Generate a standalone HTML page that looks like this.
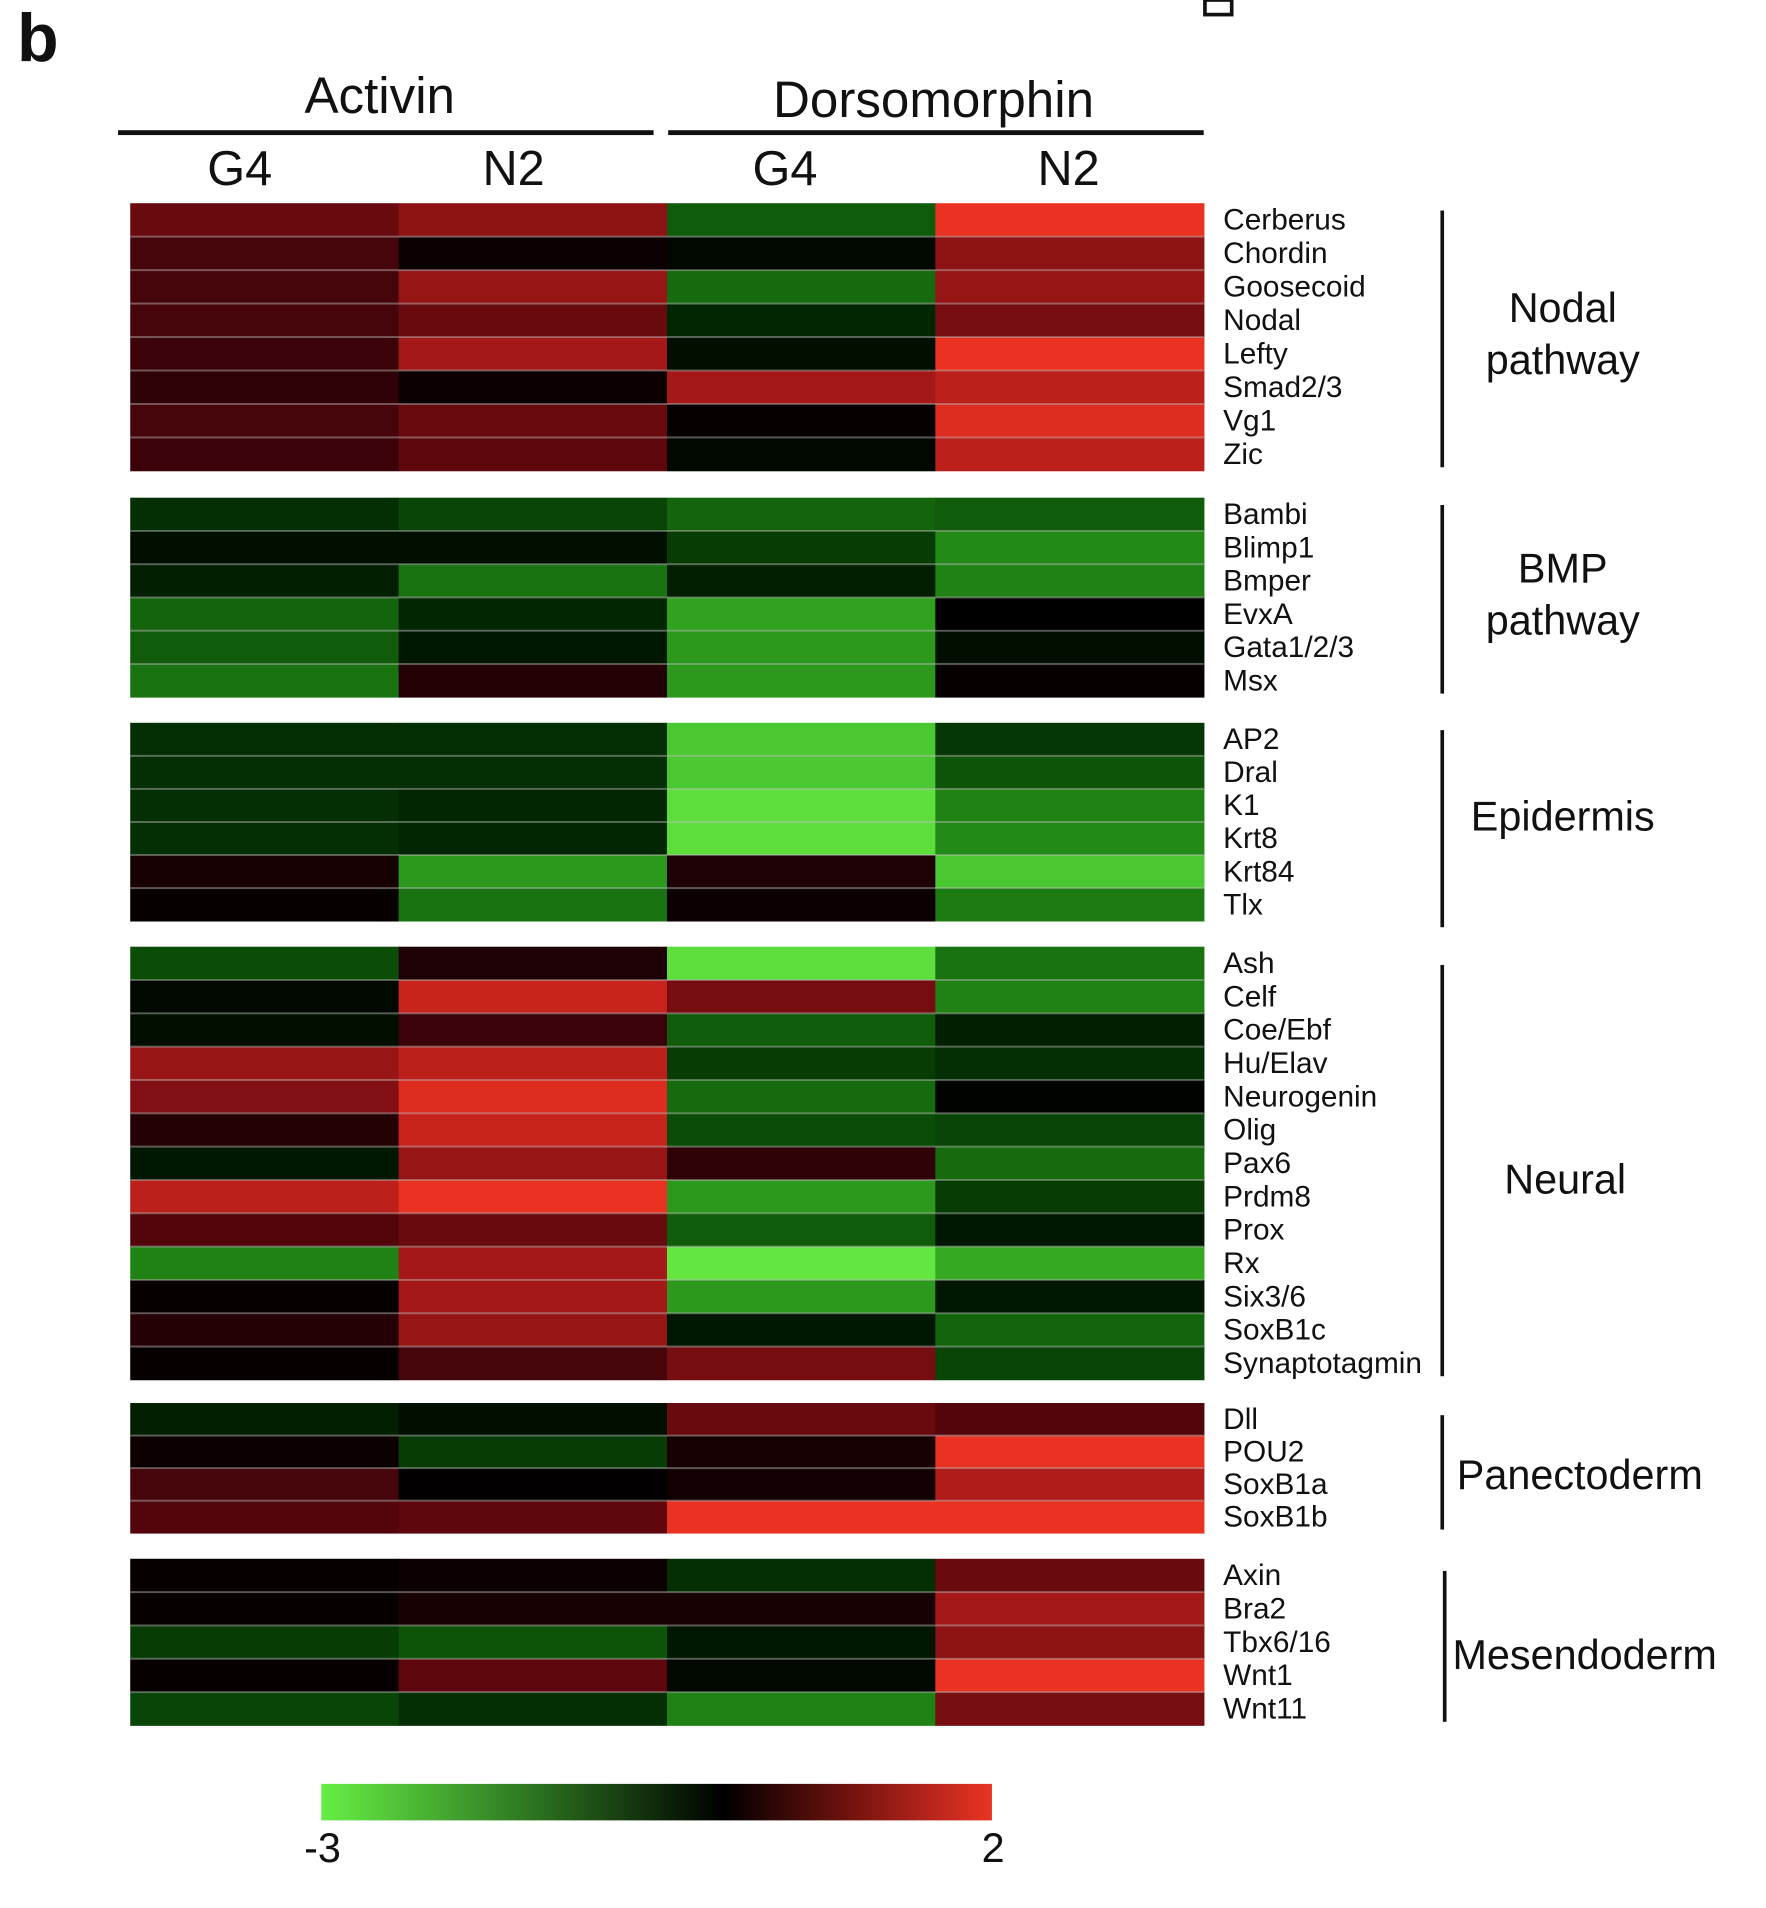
<!DOCTYPE html>
<html><head><meta charset="utf-8">
<style>html,body{margin:0;padding:0;background:#fff}svg{display:block}text{font-family:"Liberation Sans",sans-serif;fill:#111}</style>
</head><body>
<svg id="chart" width="1766" height="1908" viewBox="0 0 1451 1568" preserveAspectRatio="none" xmlns="http://www.w3.org/2000/svg">
<text x="14" y="50" font-size="56" font-weight="bold">b</text>
<rect x="990" y="0" width="22" height="12" fill="none" stroke="#111" stroke-width="3"/>
<text x="312" y="93" font-size="42" text-anchor="middle">Activin</text>
<rect x="97" y="107" width="440" height="4" fill="#111"/>
<text x="767" y="96" font-size="42" text-anchor="middle">Dorsomorphin</text>
<rect x="549" y="107" width="440" height="4" fill="#111"/>
<g id="cols"></g>
<g id="cells"></g>
<g id="labels"></g>
<g id="groups"></g>
<defs><linearGradient id="cbar" x1="0" x2="1" y1="0" y2="0">
<stop offset="0" stop-color="#66ee44"/><stop offset="0.3" stop-color="#2f7a22"/><stop offset="0.6" stop-color="#000"/><stop offset="0.8" stop-color="#7a1410"/><stop offset="1" stop-color="#ea3424"/></linearGradient></defs>
<rect x="264" y="1466" width="551" height="30" fill="url(#cbar)"/>
<text x="265" y="1530" font-size="34" text-anchor="middle">-3</text>
<text x="816" y="1530" font-size="34" text-anchor="middle">2</text>
</svg>
<script>
const columns = ["G4","N2","G4","N2"];
const groupNames = [["Nodal","pathway"],["BMP","pathway"],["Epidermis"],["Neural"],["Panectoderm"],["Mesendoderm"]];
const genes = [
 ["Cerberus","Chordin","Goosecoid","Nodal","Lefty","Smad2/3","Vg1","Zic"],
 ["Bambi","Blimp1","Bmper","EvxA","Gata1/2/3","Msx"],
 ["AP2","Dral","K1","Krt8","Krt84","Tlx"],
 ["Ash","Celf","Coe/Ebf","Hu/Elav","Neurogenin","Olig","Pax6","Prdm8","Prox","Rx","Six3/6","SoxB1c","Synaptotagmin"],
 ["Dll","POU2","SoxB1a","SoxB1b"],
 ["Axin","Bra2","Tbx6/16","Wnt1","Wnt11"]
];
const values = [
 [[0.9,1.2,-1.2,2],[0.6,0.1,-0.1,1.2],[0.6,1.3,-1.4,1.3],[0.6,0.9,-0.5,1.0],[0.5,1.4,-0.2,2],[0.4,0.1,1.4,1.6],[0.6,0.9,0.05,1.9],[0.5,0.8,-0.1,1.6]],
 [[-0.6,-0.9,-1.3,-1.2],[-0.2,-0.2,-0.8,-1.8],[-0.4,-1.5,-0.4,-1.7],[-1.3,-0.5,-2.1,0],[-1.2,-0.3,-2.0,-0.2],[-1.5,0.3,-2.0,0.05]],
 [[-0.6,-0.6,-2.6,-0.7],[-0.6,-0.6,-2.6,-1.1],[-0.6,-0.5,-2.9,-1.7],[-0.6,-0.5,-2.9,-1.8],[0.2,-2.0,0.25,-2.6],[0.05,-1.5,0.1,-1.6]],
 [[-1.0,0.25,-2.9,-1.5],[-0.1,1.7,1.0,-1.7],[-0.2,0.5,-1.2,-0.4],[1.3,1.6,-0.8,-0.6],[1.1,1.9,-1.4,-0.05],[0.3,1.7,-1.0,-0.9],[-0.3,1.3,0.4,-1.4],[1.6,2.0,-2.0,-0.8],[0.7,0.9,-1.2,-0.3],[-1.7,1.4,-3,-2.2],[0.05,1.4,-2.0,-0.3],[0.3,1.3,-0.3,-1.3],[0.05,0.6,1.0,-0.9]],
 [[-0.4,-0.2,0.9,0.7],[0.1,-0.8,0.2,2],[0.6,0.02,0.15,1.5],[0.7,0.8,2,2]],
 [[0.05,0.1,-0.6,0.9],[0.05,0.2,0.2,1.4],[-0.8,-1.1,-0.3,1.2],[0.05,0.8,-0.1,2],[-0.9,-0.6,-1.7,1.0]]
];
const groupTop=[167,409,594,778,1153,1281], groupBot=[387,573,757,1134,1260,1418];
const groupLabelX=[1284,1284,1284,1286,1298,1302];
const groupLabelDy=[-3,-3,-5,13,5,10];
const bracketX=[1185,1185,1185,1185,1185,1187];
const NS="http://www.w3.org/2000/svg";
const x0=107,x1=989,cw=(x1-x0)/columns.length;
function xPos(i){return x0+i*cw;}
function color(v){
 if(v>=0){const t=Math.min(v/2,1);return `rgb(${Math.round(234*t)},${Math.round(50*t*t)},${Math.round(34*t)})`;}
 const t=Math.min(-v/3,1);return `rgb(${Math.round(100*t*t)},${Math.round(230*t)},${Math.round(65*t*t)})`;
}
function mk(tag,attrs,parent){const e=document.createElementNS(NS,tag);for(const k in attrs)e.setAttribute(k,attrs[k]);parent.appendChild(e);return e;}
const colG=document.getElementById('cols'),cellG=document.getElementById('cells'),labG=document.getElementById('labels'),grpG=document.getElementById('groups');
const colCenters=[197,422,645,878];
columns.forEach((c,i)=>{const t=mk('text',{x:colCenters[i],y:152,'font-size':40,'text-anchor':'middle'},colG);t.textContent=c;

});
genes.forEach((gl,g)=>{
 const top=groupTop[g],h=(groupBot[g]-top)/gl.length;
 gl.forEach((name,r)=>{
  const y=top+r*h;
  values[g][r].forEach((v,c)=>{
   const rc=mk('rect',{x:xPos(c),y:y,width:cw+0.6,height:h+0.3,fill:color(v)},cellG);
   
   
  });
  if(r>0){const ln=mk('rect',{x:x0,y:y-0.8,width:x1-x0,height:1.6,fill:'rgba(190,190,190,0.45)'},cellG);
   
   }
  const t=mk('text',{x:1005,y:y+h/2+8,'font-size':24.5},labG);t.textContent=name;
  
  
 });
 const bt=top+(g==3?15:(g>=4?10:6)),bb=groupBot[g]-(g==2?-5:3);
 const ln=mk('rect',{x:bracketX[g]-1.5,y:bt,width:3,height:bb-bt,fill:'#111'},grpG);
 
 
 const mid=(top+groupBot[g])/2+groupLabelDy[g], lines=groupNames[g];
 lines.forEach((s,k)=>{
  const yy=mid+12+(k-(lines.length-1)/2)*43;
  const t=mk('text',{x:groupLabelX[g],y:yy,'font-size':34,'text-anchor':'middle'},grpG);t.textContent=s;
  
  
 });
});
</script>
</body></html>
